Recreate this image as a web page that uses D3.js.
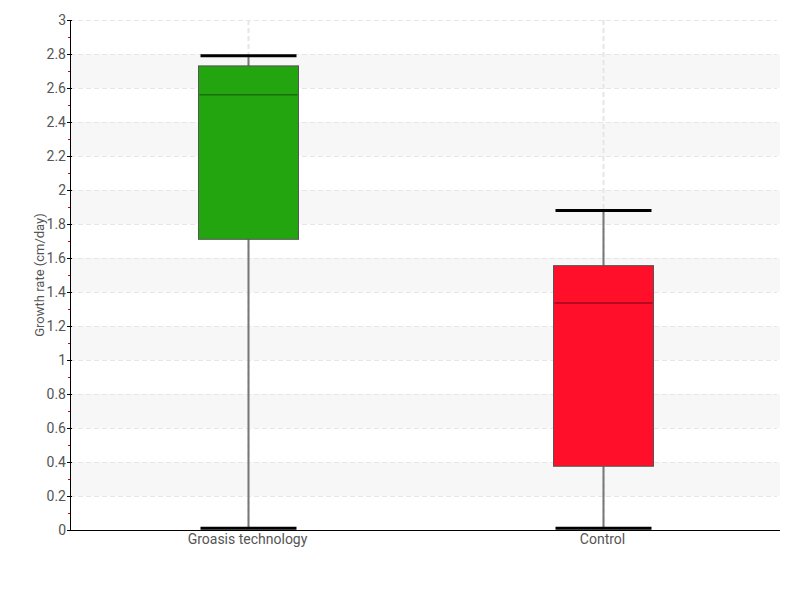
<!DOCTYPE html>
<html><head><meta charset="utf-8">
<script src="https://cdn.jsdelivr.net/npm/d3@7"></script>
<style>
body{margin:0;background:#fff;}
text{font-family:Roboto,"DejaVu Sans Condensed",sans-serif;fill:#555;}
</style></head>
<body><svg id="chart" width="800" height="600"></svg>
<script>
const categories = ["Groasis technology", "Control"];
const mins = [0.01, 0.01];
const q1s = [1.71, 0.375];
const medians = [2.56, 1.335];
const q3s = [2.73, 1.555];
const maxs = [2.79, 1.88];
const colors = ["#22a50f", "#ff0f2a"];
const medianColors = ["#176e0a", "#9e0a1b"];
const yTicks = [0,0.2,0.4,0.6,0.8,1,1.2,1.4,1.6,1.8,2,2.2,2.4,2.6,2.8,3];

const svg = d3.select("#chart");
const m = {l:70, r:20, t:20, b:70};
const W = 800, H = 600;
const x = d3.scaleBand().domain(categories).range([m.l, W - m.r]).paddingInner(0).paddingOuter(0);
const y = d3.scaleLinear().domain([0,3]).range([H - m.b, m.t]);
const g = svg.append("g");

// bands
for (let i = 1; i < yTicks.length - 1; i += 2) {
  g.append("rect").attr("x", m.l).attr("width", W - m.r - m.l)
    .attr("y", y(yTicks[i+1])).attr("height", y(yTicks[i]) - y(yTicks[i+1]))
    .attr("fill", "#f7f7f7");
}
// horizontal grid
g.selectAll(".hg").data(yTicks.slice(1)).join("line")
  .attr("x1", m.l).attr("x2", W - m.r - 3)
  .attr("y1", d => Math.round(y(d)) + 0.5).attr("y2", d => Math.round(y(d)) + 0.5)
  .attr("stroke", "#e6e6e6").attr("stroke-dasharray", "5,3");
// vertical grid
g.selectAll(".vg").data(categories).join("line")
  .attr("x1", d => Math.round(x(d) + x.bandwidth()/2) + 0.5)
  .attr("x2", d => Math.round(x(d) + x.bandwidth()/2) + 0.5)
  .attr("y1", m.t).attr("y2", H - m.b)
  .attr("stroke", "#e6e6e6").attr("stroke-width", 2).attr("stroke-dasharray", "5,3");

const boxW = 100, capW = 96;
categories.forEach((c, i) => {
  const cx = Math.round(x(c) + x.bandwidth()/2) + 0.5;
  g.append("line").attr("x1", cx).attr("x2", cx).attr("y1", y(maxs[i])).attr("y2", y(mins[i]))
    .attr("stroke", "#777").attr("stroke-width", 2);
  g.append("rect").attr("x", cx - boxW/2).attr("width", boxW)
    .attr("y", y(q3s[i])).attr("height", y(q1s[i]) - y(q3s[i]))
    .attr("fill", colors[i]).attr("stroke", "#555").attr("stroke-width", 1);
  g.append("line").attr("x1", cx - boxW/2 + 1).attr("x2", cx + boxW/2 - 1)
    .attr("y1", y(medians[i])).attr("y2", y(medians[i]))
    .attr("stroke", medianColors[i]).attr("stroke-width", 1.5);
  [mins[i], maxs[i]].forEach(v => {
    g.append("line").attr("x1", cx - capW/2).attr("x2", cx + capW/2)
      .attr("y1", y(v)).attr("y2", y(v)).attr("stroke", "#000").attr("stroke-width", 3);
  });
});

// y axis
const yAxis = g.append("g").attr("transform", `translate(${m.l},0)`);
yAxis.append("line").attr("x1", 0.5).attr("x2", 0.5).attr("y1", m.t).attr("y2", H - m.b).attr("stroke", "#000");
const minor = d3.range(1, 30, 2).map(k => k / 10);
yAxis.selectAll(".mt").data(minor).join("line")
  .attr("x1", -2).attr("x2", 0).attr("y1", d => Math.round(y(d)) + 0.5).attr("y2", d => Math.round(y(d)) + 0.5)
  .attr("stroke", "#d00");
yAxis.selectAll(".MT").data(yTicks).join("line")
  .attr("x1", -3).attr("x2", 2).attr("y1", d => Math.round(y(d)) + 0.5).attr("y2", d => Math.round(y(d)) + 0.5)
  .attr("stroke", "#000");
yAxis.selectAll(".tl").data(yTicks).join("text")
  .attr("x", -4).attr("y", d => y(d)).attr("dy", "0.35em").attr("text-anchor", "end")
  .attr("font-size", 14).text(d => d3.format("~g")(d));

// x axis
g.append("line").attr("x1", m.l).attr("x2", W - m.r).attr("y1", H - m.b + 0.5).attr("y2", H - m.b + 0.5).attr("stroke", "#000");
g.selectAll(".xl").data(categories).join("text")
  .attr("x", d => x(d) + x.bandwidth()/2).attr("y", H - m.b + 14)
  .attr("text-anchor", "middle").attr("font-size", 14).text(d => d);

// y label
g.append("text").attr("transform", `translate(44,${(m.t + H - m.b)/2}) rotate(-90)`)
  .attr("text-anchor", "middle").attr("font-size", 13).text("Growth rate (cm/day)");
</script></body></html>
